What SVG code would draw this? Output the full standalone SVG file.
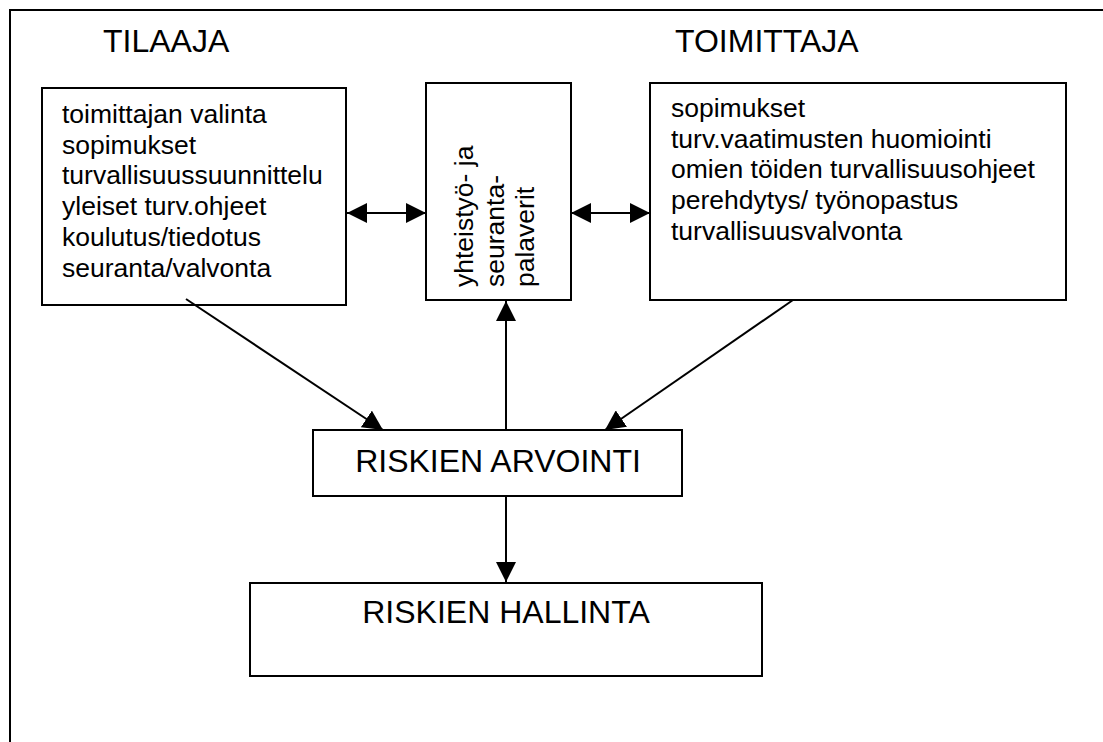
<svg xmlns="http://www.w3.org/2000/svg" width="1103" height="742" viewBox="0 0 1103 742">
<style>
.box{fill:#fff;stroke:#000;stroke-width:2}
.frame{fill:none;stroke:#000;stroke-width:2}
.t{font-family:"Liberation Sans",Arial,sans-serif;font-size:26.5px;fill:#000}
.h{font-family:"Liberation Sans",Arial,sans-serif;font-size:32px;fill:#000}
.c{fill:none;stroke:#000;stroke-width:2}
</style>
<defs>
<marker id="ah" markerUnits="userSpaceOnUse" markerWidth="20" markerHeight="20" viewBox="0 0 20 20" refX="20" refY="10" orient="auto-start-reverse">
<path d="M0,0 L20,10 L0,20 z" fill="#000"/>
</marker>
</defs>
<rect width="1103" height="742" fill="#fff"/>
<g id="frame">
<path class="frame" d="M10,742 L10,10 L1103,10"/>
</g>
<g id="labels">
<text class="h" x="103" y="52">TILAAJA</text>
<text class="h" x="675" y="52">TOIMITTAJA</text>
</g>
<g id="tilaaja">
<rect class="box" x="42" y="88" width="304" height="217"/>
<text class="t">
<tspan x="62" y="123">toimittajan valinta</tspan>
<tspan x="62" y="153.7">sopimukset</tspan>
<tspan x="62" y="184.4">turvallisuussuunnittelu</tspan>
<tspan x="62" y="215.1">yleiset turv.ohjeet</tspan>
<tspan x="62" y="245.8">koulutus/tiedotus</tspan>
<tspan x="62" y="276.5">seuranta/valvonta</tspan>
</text>
</g>
<g id="palaverit">
<rect class="box" x="426" y="83" width="145" height="217"/>
<text class="t" transform="translate(473,287) rotate(-90)">yhteistyö- ja</text>
<text class="t" transform="translate(503.7,287) rotate(-90)">seuranta-</text>
<text class="t" transform="translate(534.4,287) rotate(-90)">palaverit</text>
</g>
<g id="toimittaja">
<rect class="box" x="650" y="83" width="416" height="217"/>
<text class="t">
<tspan x="671" y="117">sopimukset</tspan>
<tspan x="671" y="147.7">turv.vaatimusten huomiointi</tspan>
<tspan x="671" y="178.4">omien töiden turvallisuusohjeet</tspan>
<tspan x="671" y="209.1">perehdytys/ työnopastus</tspan>
<tspan x="671" y="239.8">turvallisuusvalvonta</tspan>
</text>
</g>
<g id="arvointi">
<rect class="box" x="313" y="430" width="369" height="66"/>
<text class="h" x="498" y="472" text-anchor="middle">RISKIEN ARVOINTI</text>
</g>
<g id="hallinta">
<rect class="box" x="250" y="583" width="512" height="93"/>
<text class="h" x="506" y="623" text-anchor="middle">RISKIEN HALLINTA</text>
</g>
<g id="connectors">
<line class="c" x1="347" y1="213" x2="426" y2="213" marker-start="url(#ah)" marker-end="url(#ah)"/>
<line class="c" x1="571" y1="213" x2="650" y2="213" marker-start="url(#ah)" marker-end="url(#ah)"/>
<line class="c" x1="186" y1="299" x2="383" y2="430" marker-end="url(#ah)"/>
<line class="c" x1="793" y1="300" x2="605" y2="430" marker-end="url(#ah)"/>
<line class="c" x1="506" y1="430" x2="506" y2="301" marker-end="url(#ah)"/>
<line class="c" x1="506" y1="496" x2="506" y2="582" marker-end="url(#ah)"/>
</g>
</svg>
